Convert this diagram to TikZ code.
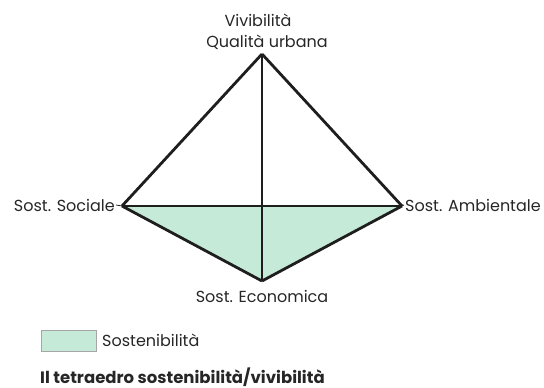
\documentclass[tikz,border=0pt]{standalone}
\usepackage{fontspec}
\setmainfont{Poppins}
\definecolor{sostgreen}{HTML}{C6EAD8}
\definecolor{edgeink}{HTML}{1E1E1E}

\begin{document}
\begin{tikzpicture}[x=1pt, y=-1pt, line join=miter,
    edge/.style={line width=2.8pt, draw=edgeink},
    lead/.style={line width=0.8pt, draw=edgeink},
    vlabel/.style={font=\fontsize{16}{18}\selectfont, text=black!85, inner sep=1pt}]
        % Frame
        \useasboundingbox (0,0) rectangle (544,388);

        % Coordinates
        \coordinate (top) at (262,54);
        \coordinate (soc) at (122,206);
        \coordinate (amb) at (402,206);
        \coordinate (eco) at (262,281);

        % Sustainability face
        \fill[sostgreen] (soc) -- (amb) -- (eco) -- cycle;

        % Edges
        \draw[edge] (top) -- (soc);
        \draw[edge] (top) -- (amb);
        \draw[edge] (soc) -- (amb);
        \draw[edge] (soc) -- (eco);
        \draw[edge] (amb) -- (eco);
        \draw[edge] (top) -- (eco);

        % Vertex labels
        \node[vlabel] (vivL) at (258,20) {Vivibilità};
        \node[vlabel] (quaL) at (267,42) {Qualità urbana};
        \node[vlabel, anchor=east] (socL) at (116,205) {Sost. Sociale};
        \node[vlabel, anchor=west] (ambL) at (404,205) {Sost. Ambientale};
        \node[vlabel] (ecoL) at (262,296) {Sost. Economica};
        \draw[lead] (socL.east) -- (soc);
        \draw[lead] (amb) -- (ambL.west);

        % Legend
        \draw[draw=black!35, fill=sostgreen] (41,330) rectangle (96,351);
        \node[vlabel, anchor=west] (legL) at (101,340) {Sostenibilità};

        % Caption
        \node[anchor=west, inner sep=0pt, font=\fontsize{16.5}{18}\selectfont\bfseries, text=black!85] (capL) at (40,377) {Il tetraedro sostenibilità/vivibilità};
\end{tikzpicture}
\end{document}
